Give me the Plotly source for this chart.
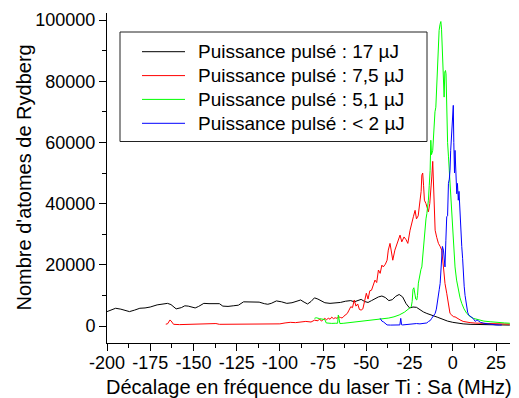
import plotly.graph_objects as go

# Detuning of the Ti:Sa laser (MHz) and Rydberg atom counts, one pair per pulse energy
x_17 = [-200, -197, -195, -192, -189, -187, -184, -181, -178, -175, -171, -168, -165, -163, -160, -157,
        -155, -153, -151, -149, -147, -144, -141, -138, -135, -133, -130, -127, -124, -121, -118, -115,
        -112, -109, -107, -105, -102, -99, -96, -93, -90, -88, -86, -84, -82, -80, -78, -76, -74, -71,
        -68, -65, -62, -59, -57, -55, -53, -51, -49, -47, -45, -43, -41, -39, -37, -35, -33, -31, -29,
        -27, -25, -23, -21, -19, -17, -15, -13, -11, -9, -7, -5, -3, 0, 3, 6, 10, 15, 20, 25, 33]
y_17 = [4700, 5300, 5800, 5500, 4900, 4700, 5200, 5800, 5900, 6200, 6900, 7100, 7400, 7000, 5600, 6000,
        6600, 6500, 6200, 5900, 6400, 7400, 7300, 7400, 7300, 6500, 6400, 6600, 6800, 7900, 7800, 7700,
        7800, 7300, 7100, 7400, 8200, 7900, 7400, 7600, 8000, 8500, 7800, 7200, 8000, 9200, 8800, 8200, 7600, 7400,
        7500, 7700, 8100, 8300, 7900, 8300, 8700, 8000, 7700, 8300, 9000, 9500, 9800, 9300, 8300, 8600, 9700, 10300, 9500,
        7300, 5900, 6200, 6100, 5200, 4600, 4100, 3800, 3300, 2900, 2400, 2000, 1600, 1200, 900, 700, 550, 450, 380, 330, 300]

x_75 = [-166, -165, -164.3, -163.6, -163, -162.2, -161.5, -158, -155, -150, -145, -140, -137, -135, -130,
        -125, -120, -115, -110, -105, -102, -100, -97, -94, -91, -88, -85, -82, -80, -78, -77, -76, -75,
        -74, -73, -72, -71, -70, -69, -68, -67, -66, -65, -64, -63, -62, -61, -60, -59, -58, -57, -56,
        -55, -54, -53, -52, -51, -50, -49, -48, -47, -46, -45, -44, -43, -42, -41, -40.2, -39, -38,
        -37.3, -36.3, -35.5, -34.7, -33.5, -32.5, -31.5, -30.5, -29.5, -28.2, -27, -26, -24.7, -23.7,
        -22.8, -21.8, -21, -20, -18.9, -18.3, -17.9, -17.4, -16.9, -16.4, -15.5, -14.8, -14.1, -13.3,
        -12.6, -12.1, -11.6, -11.1, -10.6, -10.2, -9.3, -8.3, -7.3, -6.4, -5.4, -4.5, -3.5, -2.5, -1.6,
        -0.6, 0.4, 1.3, 2.5, 4.2, 6, 8, 10, 13, 17.7, 22, 27, 33]
y_75 = [600, 700, 1300, 1950, 1700, 900, 550, 450, 500, 480, 520, 600, 800, 550, 600,
        580, 650, 700, 750, 800, 900, 700, 1000, 1200, 1100, 1400, 1500, 1300, 1900, 1700, 2300, 1600, 2000,
        2500, 2000, 2600, 2200, 2900, 2400, 2700, 2500, 3000, 2800, 2600, 3200, 3600, 4100, 5200, 6300, 6000, 8500, 6500,
        7200, 5400, 5200, 5600, 8200, 10700, 8800, 11500, 11700, 13800, 15000, 14200, 18300, 17200, 19900, 19300, 20200, 21500,
        24800, 27000, 24000, 21500, 24800, 26500, 28000, 29700, 27500, 29100, 28200, 27000, 31300, 34000,
        35700, 37800, 35000, 36000, 41100, 44000, 49300, 50000, 46000, 41100, 40000, 38500, 37300, 40000,
        44000, 49000, 53800, 47000, 38000, 31300, 29000, 27000, 26000, 24800, 19300, 13900, 10700, 6300, 4100,
        3600, 3000, 3000, 2500, 2000, 1500, 1200, 1100, 950, 880, 800, 700, 600]

x_51 = [-80, -79, -77, -75, -74, -73.2, -72, -70, -68, -66.6, -66.2, -65.8, -65.3, -63, -60, -57, -54,
        -50, -46, -43, -40, -37, -34, -31, -28, -26.6, -25, -24, -23.5, -23, -22.5, -22, -21.4, -20.8,
        -20.4, -19.9, -19.4, -18.9, -18.4, -17.9, -17.4, -17, -16.5, -16, -15.5, -15, -14.5, -14.1, -13.6,
        -13.1, -12.7, -12.3, -11.6, -11.2, -10.8, -10.3, -9.8, -9.3, -8.9, -8.4, -7.9, -7.4, -6.9, -6.5,
        -6.2, -5.8, -5.4, -5, -4.6, -4.2, -3.9, -3.5, -3, -2.5, -2, -1.6, -1.1, -0.6, 0, 0.4, 1.3, 2.2,
        3.2, 4.2, 5.2, 6.5, 8.1, 10, 11.9, 15, 18, 21.6, 26, 30, 33]
y_51 = [2500, 2700, 2400, 2300, 2100, 1000, 900, 850, 900, 900, 3600, 2600, 800, 900, 1100, 1200, 1400,
        1600, 1900, 2100, 2300, 2600, 3000, 3600, 4500, 5200, 5800, 6300, 8000, 12000, 12500, 11000, 8800, 8500,
        10000, 14000, 16100, 16500, 18500, 19300, 22500, 27000, 29000, 31500, 35000, 36700, 39000, 41100, 46000,
        50900, 60700, 56000, 57400, 63000, 67200, 70000, 71500, 78000, 85700, 92000, 96600, 98500, 99500, 97000,
        92200, 81300, 77000, 74800, 83000, 83500, 82400, 67200, 60000, 55500, 51000, 46600, 41000, 35700, 30500, 27000, 19300, 15000,
        11700, 9200, 7400, 5600, 4100, 3100, 2500, 2000, 1600, 1400, 1100, 1000, 900]

x_2 = [-42, -41.5, -41, -40, -39, -38, -36, -34, -32, -30.6, -30.1, -29.6, -29, -27, -25, -23, -21,
       -19, -17, -15, -14, -13, -12.2, -11, -10.2, -9.5, -8.9, -8.3, -7.8, -7.3, -6.9, -6.4, -6, -5.4,
       -5, -4.5, -4, -3.5, -3, -2.5, -2, -1.6, -1.2, -0.6, 0, 0.3, 0.6, 1, 1.3, 1.8, 2.3, 2.7, 3.2, 3.6,
       4, 4.2, 4.6, 5.2, 5.7, 6.1, 6.6, 7.1, 7.6, 8.1, 8.6, 9.2, 10, 11, 11.9, 13, 14, 15, 16, 18, 20,
       22, 25, 27, 28.4]
y_2 = [2500, 2000, 1600, 1300, 700, 350, 300, 350, 300, 350, 2500, 400, 350, 500, 550, 700, 800,
       700, 900, 1000, 1500, 1800, 2500, 3500, 4100, 5500, 7400, 10000, 12000, 13900, 18000, 21500, 26000, 24800,
       20500, 19300, 28000, 35700, 36000, 46600, 48000, 50900, 57400, 62900, 68000, 72100, 60000, 50000, 57400, 48000, 43200, 46600, 41100, 44000,
       38000, 35700, 30200, 26000, 22000, 17000, 13000, 10000, 7500, 5200, 4500, 3600, 3200, 2600, 2400, 1500, 2000, 1600, 1200, 900, 700,
       500, 350, 300, 350]

series_names = ["Puissance pulsé : 17 µJ", "Puissance pulsé : 7,5 µJ",
                "Puissance pulsé : 5,1 µJ", "Puissance pulsé : < 2 µJ"]
series_x = [x_17, x_75, x_51, x_2]
series_y = [y_17, y_75, y_51, y_2]
series_colors = ["#000000", "#FF0000", "#00FF00", "#0000FF"]

x_ticks = [-200, -175, -150, -125, -100, -75, -50, -25, 0, 25]
x_tick_text = ["-200", "-175", "-150", "-125", "-100", "-75", "-50", "-25", "0", "25"]
y_ticks = [0, 20000, 40000, 60000, 80000, 100000]
y_tick_text = ["0", "20000", "40000", "60000", "80000", "100000"]

x_title = "Décalage en fréquence du laser Ti : Sa (MHz)"
y_title = "Nombre d'atomes de Rydberg"

FONT = "Liberation Sans, Arial, sans-serif"
W, H = 519, 398
L, R, T, B = 107, 9, 13, 55          # plot-area margins in px
PW, PH = W - L - R, H - T - B


def px_to_paper(px, py):
    """Convert a pixel position on the page to paper coordinates."""
    return (px - L) / PW, (H - B - py) / PH


fig = go.Figure()
for name, xs, ys, color in zip(series_names, series_x, series_y, series_colors):
    fig.add_trace(go.Scatter(x=xs, y=ys, mode="lines", name=name,
                             line=dict(color=color, width=1), showlegend=False))

axis_common = dict(
    showgrid=False, zeroline=False, showline=True, linecolor="#000000", linewidth=1,
    ticks="outside", ticklen=7, tickwidth=1, tickcolor="#000000",
    tickfont=dict(family=FONT, size=18, color="#000000"),
    mirror=False, automargin=False,
)

shapes = []
annotations = []

# Axis titles placed as paper annotations
tx_x, tx_y = px_to_paper(308.5, 386.5)
annotations.append(dict(xref="paper", yref="paper", x=tx_x, y=tx_y, xanchor="center", yanchor="middle",
                        text=x_title, showarrow=False, borderpad=0,
                        font=dict(family=FONT, size=20, color="#000000")))
ty_x, ty_y = px_to_paper(23, 177.5)
annotations.append(dict(xref="paper", yref="paper", x=ty_x, y=ty_y, xanchor="center", yanchor="middle",
                        text=y_title, textangle=-90, showarrow=False,
                        font=dict(family=FONT, size=20, color="#000000")))

# Boxed legend drawn as shapes + text so the sample lines sit inset in the frame
bx0, by0 = px_to_paper(120, 32)
bx1, by1 = px_to_paper(427, 141.5)
shapes.append(dict(type="rect", xref="paper", yref="paper", x0=bx0, y0=by1, x1=bx1, y1=by0,
                   line=dict(color="#222222", width=1), fillcolor="#FFFFFF", layer="above"))
row_y = [51.7, 75.6, 99.4, 123.3]
for name, color, ry in zip(series_names, series_colors, row_y):
    lx0, ly = px_to_paper(142, ry)
    lx1, _ = px_to_paper(185, ry)
    shapes.append(dict(type="line", xref="paper", yref="paper", x0=lx0, x1=lx1, y0=ly, y1=ly,
                       line=dict(color=color, width=1), layer="above"))
    tx, _ = px_to_paper(196, ry)
    annotations.append(dict(xref="paper", yref="paper", x=tx, y=ly, xanchor="left", yanchor="middle",
                            text=name, showarrow=False,
                            font=dict(family=FONT, size=19, color="#000000")))

y_lo = -17 / 306 * 100000
y_hi = 313 / 306 * 100000

fig.update_layout(
    width=W, height=H,
    margin=dict(l=L, r=R, t=T, b=B),
    paper_bgcolor="#FFFFFF", plot_bgcolor="#FFFFFF",
    font=dict(family=FONT, color="#000000"),
    xaxis=dict(range=[-200, 33.1], tickvals=x_ticks, ticktext=x_tick_text,
               ticklabelstandoff=-4,
               minor=dict(dtick=12.5, ticks="outside", ticklen=4, tickcolor="#000000"),
               **axis_common),
    yaxis=dict(range=[y_lo, y_hi], tickvals=y_ticks, ticktext=y_tick_text,
               minor=dict(dtick=10000, ticks="outside", ticklen=4, tickcolor="#000000"),
               **axis_common),
    shapes=shapes,
    annotations=annotations,
    showlegend=False,
)

fig.write_html("out.html")
